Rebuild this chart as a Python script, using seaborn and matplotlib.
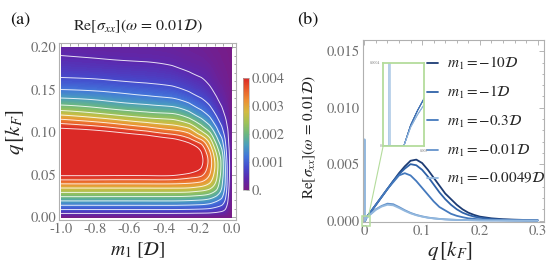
import numpy as np
import pandas as pd
import matplotlib
matplotlib.use("Agg")
import matplotlib.pyplot as plt
import matplotlib.tri as mtri
from matplotlib.colors import LinearSegmentedColormap, Normalize
from matplotlib.cm import ScalarMappable
from matplotlib.patches import Rectangle
from matplotlib.ticker import MultipleLocator, FormatStrFormatter
import seaborn as sns

sns.set_theme(style="white")
plt.rcParams['font.family'] = ['STIXGeneral', 'Liberation Serif', 'DejaVu Serif']
plt.rcParams['mathtext.fontset'] = 'stix'
plt.rcParams['axes.unicode_minus'] = True

# ---------------- panel (a) data : Re[sigma_xx] on (m1, q) grid ----------------
m1_cols = [-1.0, -0.75, -0.5, -0.35, -0.25, -0.18, -0.13, -0.09, -0.06, -0.04,
           -0.025, -0.015, -0.007, -0.002]
q_rows = [0.00, 0.01, 0.02, 0.03, 0.04, 0.05, 0.06, 0.07, 0.08, 0.09, 0.10,
          0.11, 0.12, 0.13, 0.14, 0.15, 0.16, 0.17, 0.18, 0.19, 0.20]

c_n100 = [0, 0.0009, 0.00168, 0.00248, 0.00328, 0.0041, 0.0047, 0.0051, 0.0053, 0.0050, 0.0043,
          0.0036, 0.0028, 0.0021, 0.0016, 0.0012, 0.0009, 0.00068, 0.00052, 0.0004, 0.00031]
c_n075 = [0, 0.0009, 0.00168, 0.00248, 0.00328, 0.0041, 0.0047, 0.0051, 0.0052, 0.0048, 0.0041,
          0.0033, 0.0025, 0.0019, 0.00148, 0.00112, 0.00084, 0.00063, 0.00047, 0.00036, 0.00027]
c_n050 = [0, 0.0009, 0.00168, 0.00248, 0.00328, 0.0041, 0.0047, 0.0050, 0.0050, 0.0045, 0.0037,
          0.0029, 0.0022, 0.0017, 0.0013, 0.00099, 0.00075, 0.00057, 0.00043, 0.00033, 0.00025]
c_n035 = [0, 0.0009, 0.00168, 0.00248, 0.00328, 0.0041, 0.0047, 0.0049, 0.0048, 0.0042, 0.0034,
          0.0027, 0.0021, 0.0016, 0.0012, 0.0009, 0.00068, 0.00051, 0.00038, 0.00029, 0.00022]
c_n025 = [0, 0.00088, 0.00165, 0.00245, 0.00322, 0.0039, 0.0045, 0.0046, 0.0044, 0.0038, 0.0031,
          0.0024, 0.0018, 0.00135, 0.001, 0.00074, 0.00055, 0.00041, 0.0003, 0.00023, 0.00017]
c_n018 = [0, 0.00085, 0.0016, 0.00235, 0.0031, 0.0037, 0.00405, 0.0041, 0.0039, 0.0033, 0.0025,
          0.0019, 0.00143, 0.00107, 0.0008, 0.0006, 0.00045, 0.00034, 0.00025, 0.00019, 0.00014]
c_n013 = [0, 0.0008, 0.0015, 0.0022, 0.0028, 0.0032, 0.0034, 0.0034, 0.0031, 0.0026, 0.0020,
          0.0015, 0.00112, 0.00083, 0.00062, 0.00046, 0.00034, 0.00026, 0.00019, 0.00014, 0.0001]
c_n009 = [0, 0.0007, 0.0013, 0.0019, 0.0023, 0.0025, 0.0026, 0.0025, 0.0022, 0.0018, 0.0014,
          0.00105, 0.00077, 0.00057, 0.00042, 0.00031, 0.00023, 0.00017, 0.00013, 0.0001, 0.00007]
c_n006 = [0, 0.0006, 0.0011, 0.0015, 0.0017, 0.00185, 0.0019, 0.00185, 0.0016, 0.0013, 0.00098,
          0.00073, 0.00054, 0.0004, 0.0003, 0.00022, 0.00016, 0.00012, 0.00009, 0.00007, 0.00005]
c_n004 = [0, 0.00045, 0.0008, 0.00105, 0.0012, 0.00125, 0.00124, 0.00115, 0.001, 0.00082, 0.00064,
          0.0005, 0.00038, 0.00029, 0.00022, 0.00016, 0.00012, 0.00009, 0.00007, 0.00005, 0.00004]
c_n0025 = [0, 0.00025, 0.00045, 0.0006, 0.00068, 0.0007, 0.0007, 0.00065, 0.00058, 0.0005, 0.00043,
           0.00035, 0.00028, 0.00021, 0.00016, 0.00012, 0.00009, 0.00007, 0.00005, 0.00004, 0.00003]
c_n0015 = [0, 0.00012, 0.00022, 0.0003, 0.00037, 0.00041, 0.00042, 0.0004, 0.00036, 0.0003, 0.00025,
           0.0002, 0.00016, 0.00012, 0.0001, 0.00008, 0.00006, 0.00005, 0.00004, 0.00003, 0.00002]
c_n0007 = [0, 0.00005, 0.0001, 0.00014, 0.00017, 0.00019, 0.0002, 0.00019, 0.00017, 0.00014, 0.00012,
           0.0001, 0.00008, 0.00006, 0.00005, 0.00004, 0.00003, 0.00002, 0.00002, 0.00001, 0.00001]
c_n0002 = [0, 0.00001, 0.00002, 0.00003, 0.00003, 0.00004, 0.00004, 0.00004, 0.00003, 0.00003, 0.00002,
           0.00002, 0.00002, 0.00001, 0.00001, 0.00001, 0.00001, 0, 0, 0, 0]

cbar_ticks = [0.0, 0.001, 0.002, 0.003, 0.004]
cbar_labels = ["0.", "0.001", "0.002", "0.003", "0.004"]
contour_levels = [0.0004, 0.0008, 0.0012, 0.0016, 0.0020, 0.0024, 0.0028, 0.0032, 0.0036, 0.0040]

# ---------------- panel (b) data : Re[sigma_xx] vs q ----------------
q_b = [0, 0.0004, 0.00045, 0.0005, 0.0015, 0.002, 0.0025, 0.003, 0.01, 0.02, 0.03, 0.04, 0.05,
       0.06, 0.07, 0.08, 0.09, 0.10, 0.11, 0.12, 0.13, 0.14, 0.15, 0.16, 0.17, 0.18, 0.19, 0.20,
       0.22, 0.24, 0.26, 0.28, 0.30]
s_m10 = [0, 0, 0, 0, 0, 0.0001, 0.00017, 0.00023, 0.0007, 0.0014, 0.0021, 0.0028, 0.0035,
         0.0042, 0.0048, 0.0053, 0.0054, 0.0051, 0.0045, 0.0038, 0.0031, 0.0024, 0.0019, 0.0014,
         0.0010, 0.0007, 0.0005, 0.00035, 0.0002, 0.00012, 0.00008, 0.00005, 0.00003]
s_m1 = [0, 0, 0, 0, 0, 0.0001, 0.00017, 0.00023, 0.0007, 0.0014, 0.0021, 0.0028, 0.0035,
        0.0041, 0.0046, 0.0050, 0.0049, 0.0045, 0.0039, 0.0032, 0.0025, 0.0019, 0.0014, 0.0010,
        0.0007, 0.0005, 0.00035, 0.00025, 0.00013, 0.00008, 0.00005, 0.00003, 0.00002]
s_m03 = [0, 0, 0, 0, 0, 0.0001, 0.00017, 0.00023, 0.0007, 0.0014, 0.0021, 0.0028, 0.0034,
         0.0040, 0.0042, 0.0040, 0.0035, 0.0029, 0.0023, 0.0017, 0.0012, 0.0009, 0.0006, 0.00042,
         0.0003, 0.0002, 0.00015, 0.0001, 0.00005, 0.00003, 0.00002, 0.00001, 0.00001]
s_m001 = [0, 0, 0, 0, 0, 0.00009, 0.00015, 0.0002, 0.00055, 0.0010, 0.0013, 0.0015, 0.00145,
          0.0012, 0.00092, 0.00068, 0.0005, 0.00037, 0.00027, 0.0002, 0.00015, 0.00011, 0.00008,
          0.00006, 0.00005, 0.00004, 0.00003, 0.00002, 0.00001, 0.00001, 0, 0, 0]
s_m00049 = [0, 0, 0.0072, 0, 0, 0.00009, 0.00015, 0.0002, 0.00052, 0.00095, 0.00124, 0.0014,
            0.00135, 0.00112, 0.00086, 0.00064, 0.00047, 0.00035, 0.00025, 0.00019, 0.00014,
            0.0001, 0.00008, 0.00006, 0.00005, 0.00004, 0.00003, 0.00002, 0.00001, 0.00001, 0, 0, 0]
series_labels = [r"$m_1{=}{-}10\mathcal{D}$", r"$m_1{=}{-}1\mathcal{D}$",
                 r"$m_1{=}{-}0.3\mathcal{D}$", r"$m_1{=}{-}0.01\mathcal{D}$",
                 r"$m_1{=}{-}0.0049\mathcal{D}$"]
series_colors = ["#1d3c74", "#2f62a8", "#4479bd", "#6493cb", "#93b8de"]

# ---------------- build figure ----------------
fig = plt.figure(figsize=(5.52, 2.63), dpi=100)
W, H = 552.0, 263.0
def fx(p): return p / W
def fy(p): return 1 - p / H

gray_txt = "#6e6e6e"
gray_spine = "#b0b0b0"
green = "#b4dc9c"

rainbow = LinearSegmentedColormap.from_list("mrainbow", [
    (0.00, (0.471, 0.108, 0.527)),
    (0.10, (0.36, 0.16, 0.68)),
    (0.20, (0.27, 0.29, 0.80)),
    (0.30, (0.26, 0.46, 0.85)),
    (0.40, (0.29, 0.62, 0.74)),
    (0.50, (0.42, 0.72, 0.50)),
    (0.60, (0.62, 0.76, 0.34)),
    (0.70, (0.83, 0.73, 0.25)),
    (0.80, (0.93, 0.56, 0.20)),
    (0.90, (0.91, 0.36, 0.17)),
    (1.00, (0.86, 0.16, 0.15)),
])
rainbow.set_over((0.86, 0.16, 0.15))
rainbow.set_under((0.471, 0.108, 0.527))

# ---- panel (a)
axL = fig.add_axes([fx(59.3), fy(220), (236 - 59.3) / W, (220 - 42.7) / H])
Z = np.column_stack([c_n100, c_n075, c_n050, c_n035, c_n025, c_n018, c_n013, c_n009,
                     c_n006, c_n004, c_n0025, c_n0015, c_n0007, c_n0002])
nr, nc = Z.shape
# smooth rendering: interpolate on the column-index grid, then map back to m1
IX, Q = np.meshgrid(np.arange(nc, dtype=float), np.array(q_rows))
tris = []
for i in range(nr - 1):
    for j in range(nc - 1):
        a = i * nc + j
        b = a + 1
        c = a + nc
        d = c + 1
        tris.append([a, b, d])
        tris.append([a, d, c])
tris = np.array(tris)
tri_i = mtri.Triangulation(IX.ravel(), Q.ravel(), tris)
interp = mtri.CubicTriInterpolator(tri_i, Z.ravel(), kind='min_E')
refiner = mtri.UniformTriRefiner(tri_i)
tri_r, z_r = refiner.refine_field(Z.ravel(), triinterpolator=interp, subdiv=4)
x_m1 = np.interp(tri_r.x, np.arange(nc), m1_cols)
tri_m = mtri.Triangulation(x_m1, tri_r.y, tri_r.triangles)
axL.tricontourf(tri_m, z_r, levels=np.linspace(0, 0.004, 101), cmap=rainbow, extend='both')
axL.tricontour(tri_m, z_r, levels=contour_levels, colors='white', linewidths=0.7, alpha=0.85)
axL.set_xlim(-1.01, 0.0234)
axL.set_ylim(-0.0035, 0.2051)
axL.set_xticks([-1.0, -0.8, -0.6, -0.4, -0.2, 0.0])
axL.xaxis.set_major_formatter(FormatStrFormatter('%.1f'))
axL.set_yticks([0.0, 0.05, 0.10, 0.15, 0.20])
axL.yaxis.set_major_formatter(FormatStrFormatter('%.2f'))
axL.xaxis.set_minor_locator(MultipleLocator(0.05))
axL.yaxis.set_minor_locator(MultipleLocator(0.01))
axL.tick_params(which='both', direction='in', top=True, right=True, color='#999999',
                labelcolor=gray_txt, labelsize=10.5, width=0.6, pad=2)
axL.tick_params(which='major', length=3.5)
axL.tick_params(which='minor', length=1.8)
for s in axL.spines.values():
    s.set_color(gray_spine)
    s.set_linewidth(0.8)
axL.set_xlabel("")
axL.set_ylabel("")

cax = fig.add_axes([fx(243), fy(190), 6 / W, 112 / H])
sm = ScalarMappable(norm=Normalize(0, 0.004), cmap=rainbow)
cb = fig.colorbar(sm, cax=cax, ticks=cbar_ticks)
cb.ax.set_yticklabels(cbar_labels)
cb.ax.tick_params(direction='in', length=2, width=0.5, color='#888888',
                  labelcolor=gray_txt, labelsize=10.5, pad=2)
cb.outline.set_edgecolor(gray_spine)
cb.outline.set_linewidth(0.5)

fig.text(fx(138), fy(26), r"$\mathrm{Re}[\sigma_{xx}](\omega\,=\,0.01\mathcal{D})$",
         fontsize=11.5, ha='center', va='center', color='#222222')
fig.text(fx(138), fy(250), r"$m_1\ [\mathcal{D}]$", fontsize=14, ha='center', va='center',
         color='#222222')
fig.text(fx(15), fy(132), r"$q\,[k_F]$", fontsize=15, ha='center', va='center',
         rotation=90, color='#222222')
fig.text(fx(10), fy(20), "(a)", fontsize=13, ha='left', va='center', color='#111111')
fig.text(fx(297), fy(20), "(b)", fontsize=13, ha='left', va='center', color='#111111')

# ---- panel (b)
df = pd.DataFrame({
    "q": q_b * 5,
    "val": s_m10 + s_m1 + s_m03 + s_m001 + s_m00049,
    "series": sum([[lab] * len(q_b) for lab in series_labels], []),
})
axR = fig.add_axes([fx(362.7), fy(221.7), (544 - 362.7) / W, (221.7 - 40) / H])
sns.lineplot(data=df, x="q", y="val", hue="series", hue_order=series_labels,
             palette=series_colors, estimator=None, sort=True, linewidth=1.3, ax=axR)
axR.set_xlim(-0.0028, 0.311)
axR.set_ylim(-0.0001, 0.016)
axR.set_xticks([0, 0.1, 0.2, 0.3])
axR.set_xticklabels(["0", "0.1", "0.2", "0.3"])
axR.set_yticks([0, 0.005, 0.010, 0.015])
axR.yaxis.set_major_formatter(FormatStrFormatter('%.3f'))
axR.xaxis.set_minor_locator(MultipleLocator(0.02))
axR.yaxis.set_minor_locator(MultipleLocator(0.001))
axR.tick_params(which='both', direction='in', top=True, right=True, color='#aaaaaa',
                labelcolor=gray_txt, labelsize=10.5, width=0.6, pad=2)
axR.tick_params(which='major', length=3.5)
axR.tick_params(which='minor', length=1.8)
for s in axR.spines.values():
    s.set_color(gray_spine)
    s.set_linewidth(0.8)
axR.set_xlabel("")
axR.set_ylabel("")
handles, labels = axR.get_legend_handles_labels()
leg = axR.legend(handles, labels, loc='upper left', bbox_to_anchor=(fx(427), fy(55)),
                 bbox_transform=fig.transFigure, frameon=False, fontsize=11,
                 handlelength=0.7, handletextpad=0.6, labelspacing=0.8, borderpad=0,
                 borderaxespad=0)
for lh in leg.get_lines():
    lh.set_linewidth(1.3)

fig.text(fx(309.5), fy(137), r"$\mathrm{Re}[\sigma_{xx}](\omega\,=\,0.01\mathcal{D})$",
         fontsize=11, ha='center', va='center', rotation=90, color='#222222')
fig.text(fx(450), fy(251), r"$q\,[k_F]$", fontsize=15, ha='center', va='center',
         color='#222222')

# zoom rectangle + connector
axR.add_patch(Rectangle((-0.0045, -0.0005), 0.0143, 0.0009, fill=False, ec=green, lw=1.1,
                        clip_on=False, zorder=5))
axR.plot([0.0069, 0.0329], [0.0003, 0.00668], color=green, lw=0.8, clip_on=False, zorder=5)

# inset
axI = fig.add_axes([fx(383.3), fy(146), 41 / W, 83.3 / H])
sns.lineplot(data=df, x="q", y="val", hue="series", hue_order=series_labels,
             palette=series_colors, estimator=None, sort=True, linewidth=0.7,
             legend=False, ax=axI)
axI.set_xlim(0, 0.003)
axI.set_ylim(0, 0.0004)
axI.set_xticks([])
axI.set_yticks([])
axI.set_xlabel("")
axI.set_ylabel("")
for s in axI.spines.values():
    s.set_color(green)
    s.set_linewidth(1.3)
axI.text(-0.08, 1.0, "0.0004", transform=axI.transAxes, fontsize=2.6, ha='right',
         va='center', color=gray_txt)
axI.text(-0.04, 0.0, "0", transform=axI.transAxes, fontsize=2.6, ha='right',
         va='center', color=gray_txt)
axI.text(1.0, -0.04, "0.003", transform=axI.transAxes, fontsize=2.6, ha='center',
         va='top', color=gray_txt)

fig.savefig("out.png", dpi=100)
